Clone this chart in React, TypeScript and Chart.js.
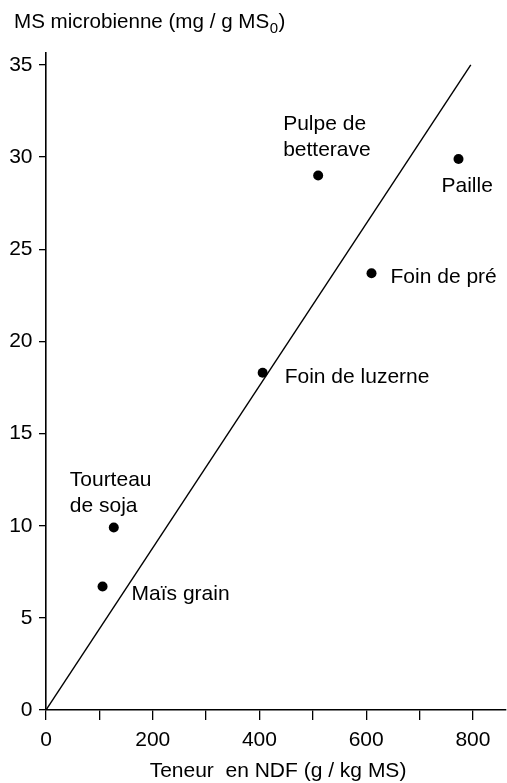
import React, { useEffect, useRef } from "react";
import { Chart, registerables } from "chart.js";

Chart.register(...registerables);

// ---- data ----
const feedNames: string[][] = [
  ["Maïs grain"],
  ["Tourteau", "de soja"],
  ["Foin de luzerne"],
  ["Pulpe de", "betterave"],
  ["Paille"],
  ["Foin de pré"],
];
const ndfValues = [106, 127, 406, 510, 773, 610];
const microbialDM = [6.7, 9.9, 18.3, 29.0, 29.9, 23.7];
const regressionX = [0, 796];
const regressionY = [0, 35];
const xTicks = [0, 100, 200, 300, 400, 500, 600, 700, 800];
const xTickLabels = ["0", "", "200", "", "400", "", "600", "", "800"];
const yTicks = [0, 5, 10, 15, 20, 25, 30, 35];
const yTickLabels = ["0", "5", "10", "15", "20", "25", "30", "35"];
const yTitleMain = "MS microbienne (mg / g MS";
const yTitleSub = "0";
const yTitleEnd = ")";
const xTitle = "Teneur  en NDF (g / kg MS)";

// label placement (pixel offsets from each point: left x, first baseline y)
const labelOffsets = [
  [29, 13.5],
  [-44, -42],
  [22, 10.5],
  [-35, -46],
  [-17, 33.5],
  [19, 9.5],
];
const LINE_GAP = 26;
const FONT_FAMILY = '"Liberation Sans", Arial, Helvetica, sans-serif';
const FONT_SIZE = 21;

const annotPlugin = {
  id: "annot",
  afterDatasetsDraw(chart: any) {
    const ctx = chart.ctx;
    const meta = chart.getDatasetMeta(0);
    ctx.save();
    ctx.fillStyle = "#000";
    ctx.font = `${FONT_SIZE}px ${FONT_FAMILY}`;
    ctx.textAlign = "left";
    ctx.textBaseline = "alphabetic";
    meta.data.forEach((pt: any, i: number) => {
      const [dx, dy] = labelOffsets[i];
      feedNames[i].forEach((line, j) => {
        ctx.fillText(line, pt.x + dx, pt.y + dy + j * LINE_GAP);
      });
    });
    // y title with subscript
    let x = 14;
    const baseY = 28;
    ctx.font = `20.6px ${FONT_FAMILY}`;
    ctx.fillText(yTitleMain, x, baseY);
    x += ctx.measureText(yTitleMain).width;
    ctx.font = `15px ${FONT_FAMILY}`;
    ctx.fillText(yTitleSub, x + 0.5, baseY + 4.5);
    x += ctx.measureText(yTitleSub).width + 1;
    ctx.font = `20.6px ${FONT_FAMILY}`;
    ctx.fillText(yTitleEnd, x, baseY);
    // x title
    ctx.font = `${FONT_SIZE}px ${FONT_FAMILY}`;
    ctx.textAlign = "center";
    ctx.fillText(xTitle, 278, 777);
    ctx.restore();
  },
};

export default function App() {
  const ref = useRef<HTMLCanvasElement | null>(null);
  useEffect(() => {
    if (!ref.current) return;
    const chart = new Chart(ref.current, {
      type: "scatter",
      data: {
        datasets: [
          {
            type: "scatter",
            data: ndfValues.map((x, i) => ({ x, y: microbialDM[i] })),
            pointRadius: 5,
            pointBackgroundColor: "#000",
            pointBorderColor: "#000",
            pointBorderWidth: 0,
          } as any,
          {
            type: "line",
            data: regressionX.map((x, i) => ({ x, y: regressionY[i] })),
            borderColor: "#000",
            borderWidth: 1.4,
            pointRadius: 0,
            fill: false,
            showLine: true,
          } as any,
        ],
      },
      options: {
        responsive: false,
        animation: false,
        devicePixelRatio: 1,
        layout: { autoPadding: false, padding: { top: 53, right: 1, left: 0, bottom: 0 } },
        plugins: {
          legend: { display: false },
          tooltip: { enabled: false },
        },
        scales: {
          x: {
            type: "linear",
            min: 0,
            max: 862,
            afterBuildTicks: (s: any) => {
              s.ticks = xTicks.map((v) => ({ value: v }));
            },
            afterFit: (s: any) => {
              s.height = 73;
              s.paddingLeft = 0;
              s.paddingRight = 0;
            },
            ticks: {
              autoSkip: false,
              maxRotation: 0,
              padding: 8,
              color: "#000",
              font: { family: FONT_FAMILY, size: FONT_SIZE },
              callback: (v: any) => {
                const i = xTicks.indexOf(Number(v));
                return i >= 0 ? xTickLabels[i] : "";
              },
            },
            grid: {
              drawOnChartArea: false,
              drawTicks: true,
              tickLength: 10,
              color: "#000",
              lineWidth: 1.3,
            },
            border: { color: "#000", width: 1.6 },
          },
          y: {
            type: "linear",
            min: 0,
            max: 35.65,
            afterBuildTicks: (s: any) => {
              s.ticks = yTicks.map((v) => ({ value: v }));
            },
            afterFit: (s: any) => {
              s.width = 46;
              s.paddingTop = 0;
              s.paddingBottom = 0;
            },
            ticks: {
              autoSkip: false,
              padding: 6.5,
              color: "#000",
              font: { family: FONT_FAMILY, size: FONT_SIZE },
              callback: (v: any) => {
                const i = yTicks.indexOf(Number(v));
                return i >= 0 ? yTickLabels[i] : "";
              },
            },
            grid: {
              drawOnChartArea: false,
              drawTicks: true,
              tickLength: 7,
              color: "#000",
              lineWidth: 1.3,
            },
            border: { color: "#000", width: 1.6 },
          },
        },
      },
      plugins: [annotPlugin],
    });
    return () => chart.destroy();
  }, []);
  return (
    <div
      style={{
        position: "fixed",
        left: 0,
        top: 0,
        width: 507,
        height: 783,
        background: "#fff",
      }}
    >
      <canvas ref={ref} width={507} height={783} style={{ width: 507, height: 783 }} />
    </div>
  );
}
